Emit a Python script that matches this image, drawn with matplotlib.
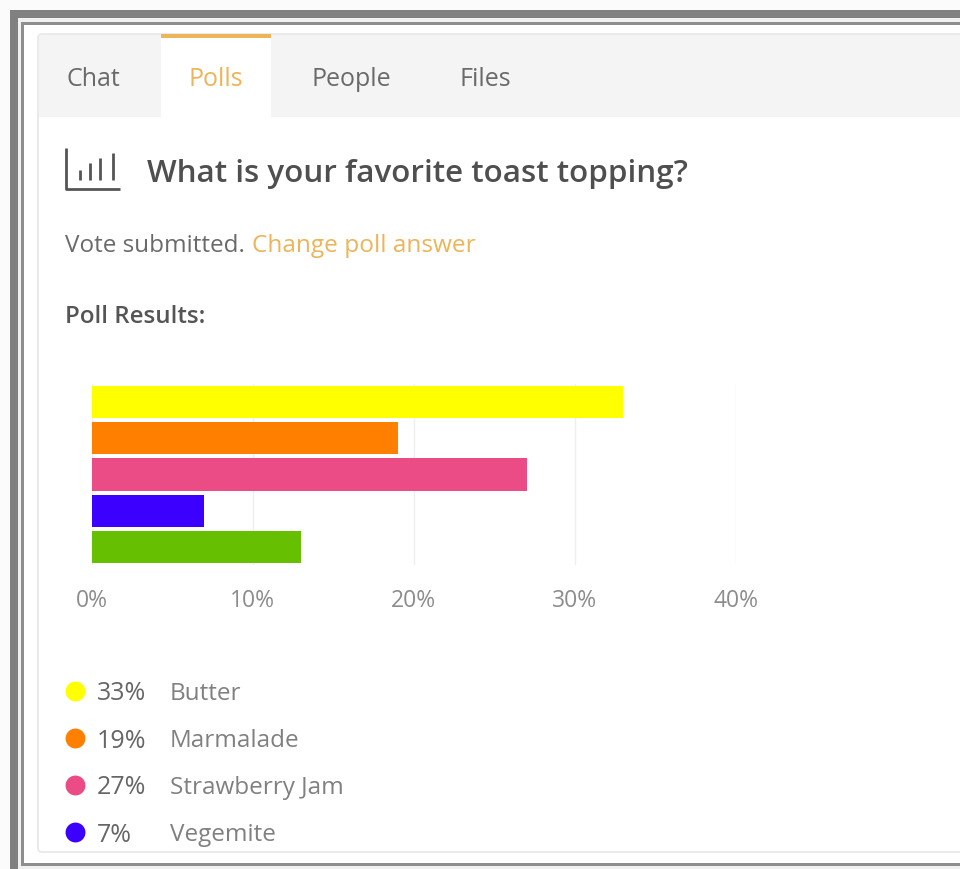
import matplotlib
matplotlib.use("Agg")
import matplotlib.pyplot as plt
from matplotlib.patches import Rectangle, FancyBboxPatch
from matplotlib.ticker import FuncFormatter

plt.rcParams['font.family'] = ['Open Sans', 'DejaVu Sans']

W, H = 960, 869

# poll results
options = ["Butter", "Marmalade", "Strawberry Jam", "Vegemite", ""]
shares = [33, 19, 27, 7, 13]
bar_colors = ["#FFFF00", "#FF8000", "#EC4C86", "#3B00FF", "#66BF00"]
x_ticks = [0, 10, 20, 30, 40]
tabs = ["Chat", "Polls", "People", "Files"]
tab_x = [93, 216, 351, 485]
legend_y = [691, 738, 785, 832]

ACCENT = "#EDB458"
TEXT = "#6A6A6A"

fig = plt.figure(figsize=(W / 100, H / 100), dpi=100, facecolor="white")

# pixel-space layer for the page furniture
ui = fig.add_axes([0, 0, 1, 1])
ui.set_xlim(0, W)
ui.set_ylim(H, 0)
ui.axis("off")

# window frame
ui.add_patch(Rectangle((0, 0), W, H, fc="#FBFBFB", ec="none", zorder=0))
ui.add_patch(Rectangle((10, 10), W, H, fc="#808080", ec="none", zorder=1))
ui.add_patch(Rectangle((18, 18), W, H, fc="#F0F0F0", ec="none", zorder=2))
ui.add_patch(Rectangle((21, 22), W, 844, fc="#8E8E8E", ec="none", zorder=3))
ui.add_patch(Rectangle((24, 25), W, 838, fc="white", ec="none", zorder=4))

# card and tab strip
ui.add_patch(FancyBboxPatch((38, 34), W, 818, boxstyle="round,pad=0,rounding_size=4",
                            fc="white", ec="#E6E6E6", lw=1.2, zorder=5))
ui.add_patch(Rectangle((39, 35), W, 82, fc="#F4F4F4", ec="none", zorder=6))
ui.add_patch(Rectangle((161, 35), 110, 83, fc="white", ec="none", zorder=7))
ui.add_patch(Rectangle((161, 34), 110, 3.5, fc=ACCENT, ec="none", zorder=8))

for label, x in zip(tabs, tab_x):
    ui.text(x, 80, label, ha="center", va="center", fontsize=18, zorder=9,
            color=ACCENT if label == "Polls" else TEXT)

# chart glyph beside the question
ui.plot([66, 66, 120], [148, 189, 189], color="#555555", lw=2, zorder=9,
        solid_capstyle="butt")
for gx, top in zip([80, 90, 100, 113], [170, 163, 158, 153]):
    ui.plot([gx, gx], [top, 180], color="#555555", lw=2, zorder=9, solid_capstyle="butt")

ui.text(147, 174, "What is your favorite toast topping?", ha="left", va="center",
        fontsize=22.6, fontweight="semibold", color="#4F4F4F", zorder=9)
ui.text(65, 246, "Vote submitted.", ha="left", va="center", fontsize=17.5,
        color=TEXT, zorder=9)
ui.text(252, 246, "Change poll answer", ha="left", va="center", fontsize=17.6,
        color=ACCENT, zorder=9)
ui.text(65, 317, "Poll Results:", ha="left", va="center", fontsize=17.4,
        fontweight="semibold", color="#555555", zorder=9)

# legend rows below the chart
for name, share, color, y in zip(options[:4], shares[:4], bar_colors[:4], legend_y):
    ui.scatter([75], [y], s=205, color=color, linewidths=0, zorder=9)
    ui.text(97, y + 3, f"{share}%", ha="left", va="center", fontsize=18,
            color="#666666", zorder=9)
    ui.text(170, y + 3, name, ha="left", va="center", fontsize=17.5,
            color="#808080", zorder=9)

# bar chart, gridlines run 16.1 px per percentage point
left, right, top, bottom = 91.5, 736, 384, 565
ax = fig.add_axes([left / W, 1 - bottom / H, (right - left) / W, (bottom - top) / H])
ax.patch.set_alpha(0)
ax.barh(range(len(shares)), shares, height=0.89, color=bar_colors, zorder=3)
ax.set_xlim(x_ticks[0], x_ticks[-1])
ax.set_ylim(len(shares) - 0.5, -0.5)
ax.set_xticks(x_ticks)
ax.xaxis.set_major_formatter(FuncFormatter(lambda v, _: f"{v:.0f}%"))
ax.set_yticks([])
ax.grid(axis="x", color="#EFEFEF", lw=1, zorder=0)
ax.tick_params(axis="x", length=0, pad=17, labelsize=16.5, labelcolor="#8C8C8C")
for spine in ax.spines.values():
    spine.set_visible(False)

fig.savefig("out.png", dpi=100, facecolor="white")
